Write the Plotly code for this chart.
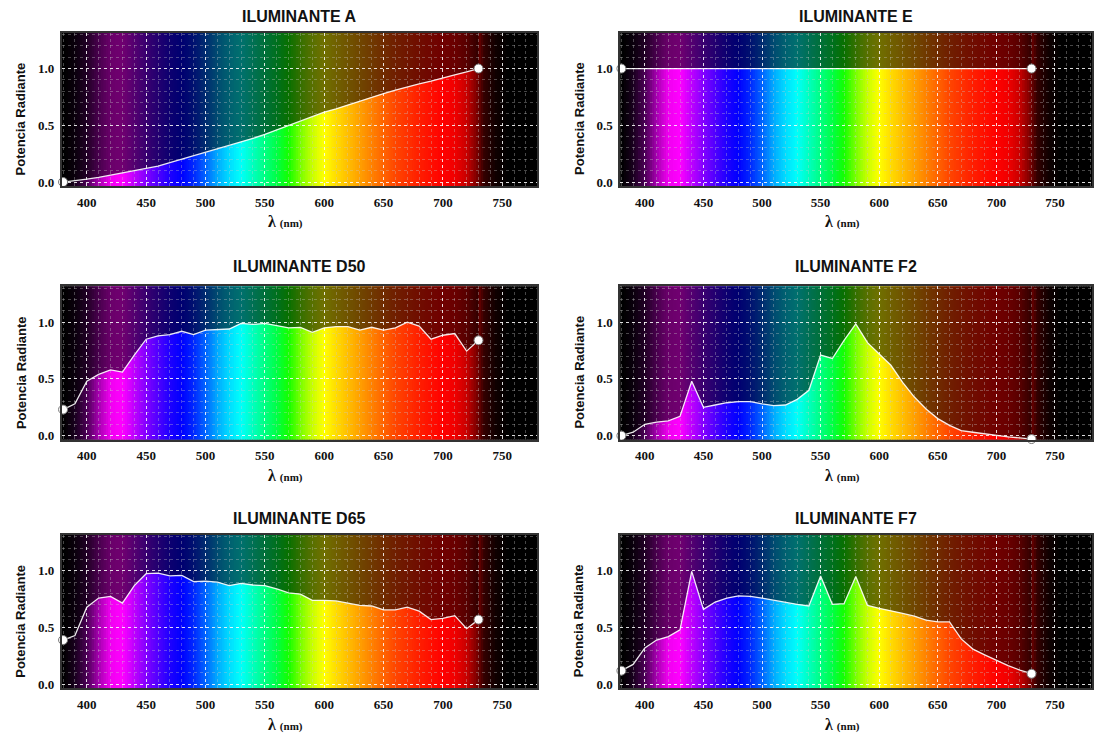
import plotly.graph_objects as go

# ---------------- data ----------------
wavelengths = [380, 390, 400, 410, 420, 430, 440, 450, 460, 470, 480, 490,
               500, 510, 520, 530, 540, 550, 560, 570, 580, 590, 600, 610,
               620, 630, 640, 650, 660, 670, 680, 690, 700, 710, 720, 730]

illum_A = [0.00, 0.01, 0.025, 0.04, 0.06, 0.08, 0.10, 0.115, 0.14, 0.17, 0.20, 0.23,
           0.26, 0.29, 0.32, 0.355, 0.385, 0.42, 0.46, 0.50, 0.535, 0.575, 0.615, 0.645,
           0.68, 0.715, 0.75, 0.78, 0.81, 0.84, 0.865, 0.89, 0.92, 0.945, 0.97, 1.00]

illum_E = [1.0, 1.0, 1.0, 1.0, 1.0, 1.0, 1.0, 1.0, 1.0, 1.0, 1.0, 1.0,
           1.0, 1.0, 1.0, 1.0, 1.0, 1.0, 1.0, 1.0, 1.0, 1.0, 1.0, 1.0,
           1.0, 1.0, 1.0, 1.0, 1.0, 1.0, 1.0, 1.0, 1.0, 1.0, 1.0, 1.0]

illum_D50 = [0.23, 0.28, 0.48, 0.54, 0.58, 0.56, 0.71, 0.85, 0.88, 0.89, 0.92, 0.89,
             0.93, 0.935, 0.94, 0.99, 0.98, 0.99, 0.97, 0.95, 0.955, 0.91, 0.95, 0.96,
             0.96, 0.93, 0.955, 0.93, 0.95, 1.00, 0.965, 0.85, 0.885, 0.90, 0.745, 0.84]

illum_D65 = [0.39, 0.43, 0.68, 0.76, 0.775, 0.715, 0.87, 0.975, 0.98, 0.955, 0.96, 0.905,
             0.91, 0.90, 0.87, 0.89, 0.875, 0.87, 0.84, 0.805, 0.795, 0.74, 0.74, 0.735,
             0.715, 0.695, 0.69, 0.655, 0.655, 0.68, 0.645, 0.57, 0.58, 0.605, 0.49, 0.57]

illum_F2 = [0.00, 0.03, 0.10, 0.12, 0.13, 0.17, 0.48, 0.25, 0.27, 0.29, 0.30, 0.30,
            0.28, 0.265, 0.27, 0.32, 0.40, 0.71, 0.68, 0.84, 0.985, 0.82, 0.72, 0.62,
            0.47, 0.34, 0.235, 0.15, 0.09, 0.045, 0.03, 0.015, 0.00, -0.01, -0.02, -0.03]

illum_F7 = [0.12, 0.175, 0.32, 0.39, 0.42, 0.48, 0.995, 0.66, 0.725, 0.76, 0.78, 0.775,
            0.76, 0.74, 0.72, 0.705, 0.69, 0.955, 0.705, 0.71, 0.95, 0.695, 0.67, 0.65,
            0.625, 0.60, 0.565, 0.55, 0.55, 0.40, 0.31, 0.26, 0.21, 0.165, 0.125, 0.093]

panel_titles = ["ILUMINANTE A", "ILUMINANTE E", "ILUMINANTE D50",
                "ILUMINANTE F2", "ILUMINANTE D65", "ILUMINANTE F7"]
panel_series = [illum_A, illum_E, illum_D50, illum_F2, illum_D65, illum_F7]

x_tick_vals = [400, 450, 500, 550, 600, 650, 700, 750]
y_tick_vals = [0.0, 0.5, 1.0]

# spectrum colour stops (wavelength -> rgb)
spec_nm = [370, 380, 390, 400, 410, 420, 430, 440, 450, 460, 470, 480, 490, 500, 510,
           520, 530, 540, 550, 560, 570, 580, 590, 600, 610, 620, 630, 640, 650, 660,
           670, 680, 690, 700, 710, 720, 728, 735, 745, 755, 800]
spec_rgb = [(0, 0, 0), (0, 0, 0), (25, 0, 30), (75, 0, 85), (165, 0, 175), (240, 0, 240),
            (255, 0, 255), (190, 0, 255), (130, 0, 255), (80, 0, 255), (30, 0, 255),
            (0, 0, 255), (0, 40, 255), (0, 100, 255), (0, 170, 255), (0, 220, 255),
            (0, 255, 250), (0, 255, 190), (0, 255, 130), (0, 255, 70), (20, 255, 0),
            (120, 255, 0), (200, 255, 0), (255, 255, 0), (255, 220, 0), (255, 190, 0),
            (255, 160, 0), (255, 130, 0), (255, 100, 0), (255, 70, 0), (255, 50, 0),
            (255, 30, 0), (255, 15, 0), (255, 0, 0), (240, 0, 0), (200, 0, 0),
            (130, 0, 0), (50, 0, 0), (15, 0, 0), (0, 0, 0), (0, 0, 0)]


def spec_color(nm):
    for i in range(len(spec_nm) - 1):
        a, b = spec_nm[i], spec_nm[i + 1]
        if a <= nm <= b:
            t = (nm - a) / (b - a)
            c0, c1 = spec_rgb[i], spec_rgb[i + 1]
            r, g, bl = [round(c0[k] + (c1[k] - c0[k]) * t) for k in range(3)]
            return f"rgb({r},{g},{bl})"
    return "rgb(0,0,0)"


# ---------------- layout geometry ----------------
W, H = 1094, 740
col_dom = [[62 / W, 538 / W], [621.5 / W, 1.0]]
col_range = [[379.0, 779.3], [379.1, 781.6]]
row_px = [(33, 187), (288, 442), (538, 692)]
row_dom = [[1 - b / H, 1 - t / H] for (t, b) in row_px]
title_y = [17, 268, 521]
y_range = [-0.035, 1.315]
top_y = 1.5

fig = go.Figure()
shapes = []
annotations = []

tick_font = dict(family="Liberation Serif", size=13, color="#111111", weight="bold")

for idx, (title, series) in enumerate(zip(panel_titles, panel_series)):
    r, c = divmod(idx, 2)
    n = idx + 1
    xa = "x" if n == 1 else f"x{n}"
    ya = "y" if n == 1 else f"y{n}"
    xkey = "xaxis" if n == 1 else f"xaxis{n}"
    ykey = "yaxis" if n == 1 else f"yaxis{n}"

    # spectrum background (below gridlines); overlapping bands avoid seams
    nm = 370
    while nm < 790:
        shapes.append(dict(type="rect", xref=xa, yref=ya, x0=nm, x1=nm + 3.2,
                           y0=-0.2, y1=top_y, fillcolor=spec_color(nm + 1),
                           line=dict(width=0), layer="below"))
        nm += 2

    # darkening above the curve
    path = "M " + " L ".join(f"{x},{y}" for x, y in zip(wavelengths, series))
    path += f" L {wavelengths[-1]},{top_y} L {wavelengths[0]},{top_y} Z"
    shapes.append(dict(type="path", xref=xa, yref=ya, path=path,
                       fillcolor="rgba(0,0,0,0.56)", line=dict(width=0),
                       layer="below"))

    fig.add_trace(go.Scatter(
        x=wavelengths, y=series, mode="lines", xaxis=xa, yaxis=ya,
        line=dict(color="rgba(255,255,255,0.9)", width=1.3),
        hoverinfo="skip", showlegend=False))
    fig.add_trace(go.Scatter(
        x=[wavelengths[0], wavelengths[-1]], y=[series[0], series[-1]],
        mode="markers", xaxis=xa, yaxis=ya, cliponaxis=False,
        marker=dict(color="white", size=9, line=dict(color="#777777", width=1)),
        hoverinfo="skip", showlegend=False))

    fig.layout[xkey] = dict(
        domain=col_dom[c], range=col_range[c], anchor=ya,
        tickmode="array", tickvals=x_tick_vals, ticks="outside", ticklen=3,
        tickcolor="rgba(0,0,0,0)", tickfont=tick_font,
        showgrid=True, gridcolor="rgba(255,255,255,0.8)", griddash="3px,3px",
        gridwidth=1,
        minor=dict(tick0=380, dtick=10, showgrid=True,
                   gridcolor="rgba(200,200,200,0.35)", griddash="dot", gridwidth=1),
        showline=True, mirror=True, linecolor="#333333", linewidth=2,
        zeroline=False, fixedrange=True)
    fig.layout[ykey] = dict(
        domain=row_dom[r], range=y_range, anchor=xa,
        tickmode="array", tickvals=y_tick_vals, tickformat=".1f",
        ticks="outside", ticklen=3, tickcolor="rgba(0,0,0,0)", tickfont=tick_font,
        showgrid=True, gridcolor="rgba(255,255,255,0.8)", griddash="3px,3px",
        gridwidth=1,
        minor=dict(tick0=0, dtick=0.1, showgrid=True,
                   gridcolor="rgba(200,200,200,0.35)", griddash="dot", gridwidth=1),
        showline=True, mirror=True, linecolor="#333333", linewidth=2,
        zeroline=False, fixedrange=True)

    # panel title
    annotations.append(dict(
        text=f"<b>{title}</b>", xref=f"{xa} domain", x=0.5, yref="paper",
        y=1 - title_y[r] / H, xanchor="center", yanchor="middle", showarrow=False,
        font=dict(family="Liberation Sans", size=16, color="#111111")))
    # x axis title
    annotations.append(dict(
        text="<b>λ</b> <span style='font-size:11px'><b>(nm)</b></span>",
        xref=f"{xa} domain", x=0.47, yref=f"{ya} domain", y=0, yshift=-36,
        xanchor="center", yanchor="middle", showarrow=False,
        font=dict(family="Liberation Serif", size=16, color="#111111")))
    # y axis title
    annotations.append(dict(
        text="<b>Potencia Radiante</b>", textangle=-90,
        xref=f"{xa} domain", x=0, xshift=-41, yref=f"{ya} domain", y=0.44,
        xanchor="center", yanchor="middle", showarrow=False,
        font=dict(family="Liberation Sans", size=13, color="#111111")))

fig.update_layout(
    width=W, height=H, margin=dict(l=0, r=0, t=0, b=0),
    paper_bgcolor="white", plot_bgcolor="black",
    shapes=shapes, annotations=annotations, showlegend=False)

fig.write_html("out.html", config={"displayModeBar": False})
